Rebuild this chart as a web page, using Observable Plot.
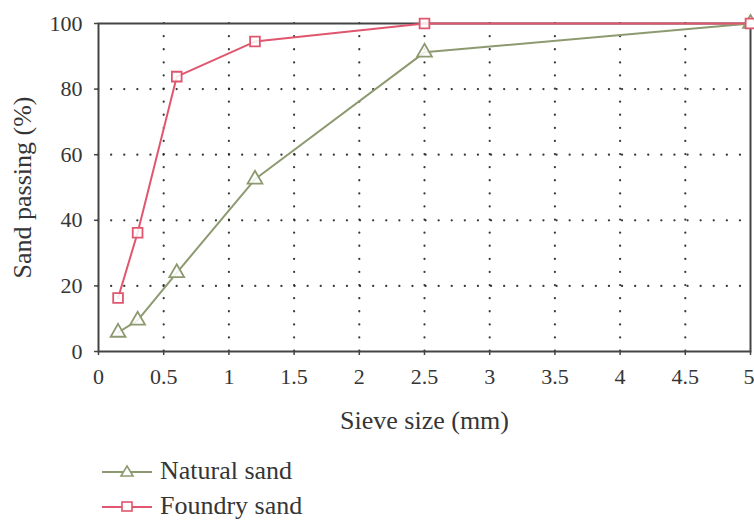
<!DOCTYPE html>
<html>
<head>
<meta charset="utf-8">
<script src="https://cdn.jsdelivr.net/npm/d3@7"></script>
<script src="https://cdn.jsdelivr.net/npm/@observablehq/plot@0.6"></script>
<style>
  body { margin: 0; background: #fff; font-family: "Liberation Serif", "DejaVu Serif", serif; }
  #chart { position: relative; width: 754px; height: 445px; }
  .legend { margin-left: 100px; margin-top: 8px; }
  .legend .row { display: flex; align-items: center; height: 35px; font-size: 26px; color: #353535; }
  .legend svg { margin-right: 8px; }
</style>
</head>
<body>
<div id="chart"></div>
<div class="legend" id="legend"></div>
<script>
const sieveSizes = [0.15, 0.3, 0.6, 1.2, 2.5, 5];
const naturalSand = [5.8, 9.5, 24, 52.5, 91.2, 100];
const foundrySand = [16.3, 36.2, 83.8, 94.5, 100, 100];
const seriesNames = ["Natural sand", "Foundry sand"];
const seriesColors = ["#8d9a70", "#e0566f"];
const seriesSymbols = ["triangle", "square"];
const xTicks = [0, 0.5, 1, 1.5, 2, 2.5, 3, 3.5, 4, 4.5, 5];
const yTicks = [0, 20, 40, 60, 80, 100];

const data = [];
sieveSizes.forEach((s, i) => {
  data.push({series: seriesNames[0], size: s, pass: naturalSand[i]});
  data.push({series: seriesNames[1], size: s, pass: foundrySand[i]});
});

const textColor = "#353535";
const lastTick = xTicks[xTicks.length - 1];
const chart = Plot.plot({
  width: 754,
  height: 445,
  marginTop: 23,
  marginLeft: 98,
  marginRight: 4,
  marginBottom: 94,
  style: {fontFamily: "Liberation Serif, serif", fontSize: "22px", color: textColor, background: "#fff"},
  x: {domain: [0, 5], label: null},
  y: {domain: [0, 100], label: null},
  color: {domain: seriesNames, range: seriesColors},
  symbol: {domain: seriesNames, range: seriesSymbols},
  marks: [
    Plot.gridX(xTicks.filter(d => d > 0 && d < 5), {stroke: "#222", strokeOpacity: 0.9, strokeWidth: 2.2, strokeDasharray: "0.1,13", strokeLinecap: "round"}),
    Plot.gridY(yTicks.filter(d => d > 0 && d < 100), {stroke: "#222", strokeOpacity: 0.9, strokeWidth: 2.2, strokeDasharray: "0.1,13", strokeLinecap: "round"}),
    Plot.frame({stroke: "#444", strokeWidth: 2}),
    Plot.axisX({ticks: xTicks, tickFormat: d => d === lastTick ? "" : String(d), tickSize: 4, tickPadding: 13, fontSize: 22, label: null, stroke: "#444", strokeWidth: 1.5}),
    Plot.text([lastTick], {x: d => d, frameAnchor: "bottom", text: d => String(d), textAnchor: "end", lineAnchor: "top", dy: 17, dx: 4, fontSize: 22, fill: textColor}),
    Plot.axisY({ticks: yTicks, tickSize: 4, tickPadding: 12, fontSize: 22, label: null, stroke: "#444", strokeWidth: 1.5}),
    Plot.text(["Sieve size (mm)"], {frameAnchor: "bottom", lineAnchor: "middle", dy: 69, fontSize: 26, fill: textColor}),
    Plot.text(["Sand passing (%)"], {frameAnchor: "left", textAnchor: "middle", dx: -76, rotate: -90, fontSize: 26, fill: textColor}),
    Plot.line(data, {x: "size", y: "pass", stroke: "series", z: "series", strokeWidth: 2}),
    Plot.dot(data, {x: "size", y: "pass", stroke: "series", symbol: "series", fill: "#fff", fillOpacity: 0.85, r: 5.5, strokeWidth: 1.8})
  ]
});
document.getElementById("chart").appendChild(chart);

// legend
const legend = document.getElementById("legend");
seriesNames.forEach((name, i) => {
  const row = document.createElement("div");
  row.className = "row";
  const sym = seriesSymbols[i] === "triangle"
    ? `<path d="M27,5 L33,15 L21,15 Z" fill="#fff" stroke="${seriesColors[i]}" stroke-width="1.6"/>`
    : `<rect x="22" y="6" width="10" height="9" fill="#fff" stroke="${seriesColors[i]}" stroke-width="1.6"/>`;
  row.innerHTML = `<svg width="52" height="20"><line x1="2" x2="52" y1="11" y2="11" stroke="${seriesColors[i]}" stroke-width="2"/>${sym}</svg><span>${name}</span>`;
  legend.appendChild(row);
});
</script>
</body>
</html>
